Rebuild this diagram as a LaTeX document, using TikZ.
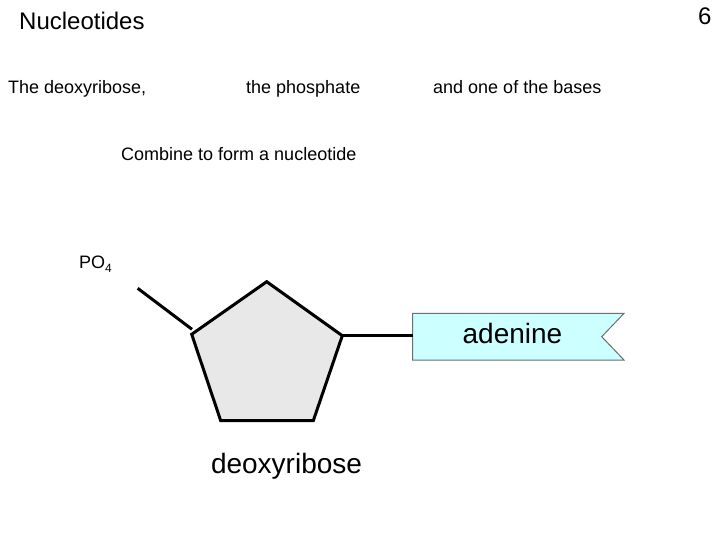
\documentclass[tikz,border=0pt]{standalone}
\usepackage{fontspec}
\setmainfont{Liberation Sans}
\definecolor{sugar}{RGB}{232,232,232}
\definecolor{basecol}{RGB}{204,255,255}
\definecolor{baseline}{RGB}{110,110,110}
\begin{document}
\begin{tikzpicture}[x=1pt,y=-1pt,
  txt/.style={inner sep=0pt,anchor=base west},
  bond/.style={line width=3pt},
  f18/.style={font=\fontsize{18}{20}\selectfont},
  f24/.style={font=\fontsize{24}{26}\selectfont},
  f28/.style={font=\fontsize{28}{30}\selectfont}]
\useasboundingbox (0,0) rectangle (720,540);
% texts
\node[txt,f24] (title) at (19,29.5) {Nucleotides};
\node[txt,f24] (num) at (698,24.5) {6};
\node[txt,f18] (t1) at (8,93.5) {The deoxyribose,};
\node[txt,f18] (t2) at (246,93.5) {the phosphate};
\node[txt,f18] (t3) at (433,93.5) {and one of the bases};
\node[txt,f18] (t4) at (121,160.5) {Combine to form a nucleotide};
\node[txt,f18] (po4) at (79,268.5) {PO\raisebox{-4pt}{\fontsize{12}{12}\selectfont 4}};
% pentagon
\coordinate (pt) at (266.7,281.7);
\coordinate (pl) at (191.7,334.3);
\coordinate (pr) at (342.3,335.7);
\coordinate (pbl) at (220.7,420.7);
\coordinate (pbr) at (313.3,420.7);
\filldraw[fill=sugar,line width=3pt,line join=miter] (pt) -- (pr) -- (pbr) -- (pbl) -- (pl) -- cycle;
\coordinate (pend) at (137.7,288.3);
\coordinate (pjoin) at (192,329.3);
\draw[bond] (pend) -- (pjoin);
% base
\coordinate (b1) at (412.7,313.3);
\coordinate (b2) at (624,313.3);
\coordinate (b3) at (601.7,336.7);
\coordinate (b4) at (624,360);
\coordinate (b5) at (412.7,360);
\filldraw[fill=basecol,draw=baseline,line width=1pt] (b1) -- (b2) -- (b3) -- (b4) -- (b5) -- cycle;
\draw[line width=2.5pt] (pr) -- (412.7,335.7);
\node[f28,inner sep=0pt] (ade) at (512.5,333) {adenine};
\node[f28,inner sep=0pt] (deo) at (286.5,466) {deoxyribose};
\end{tikzpicture}
\end{document}
